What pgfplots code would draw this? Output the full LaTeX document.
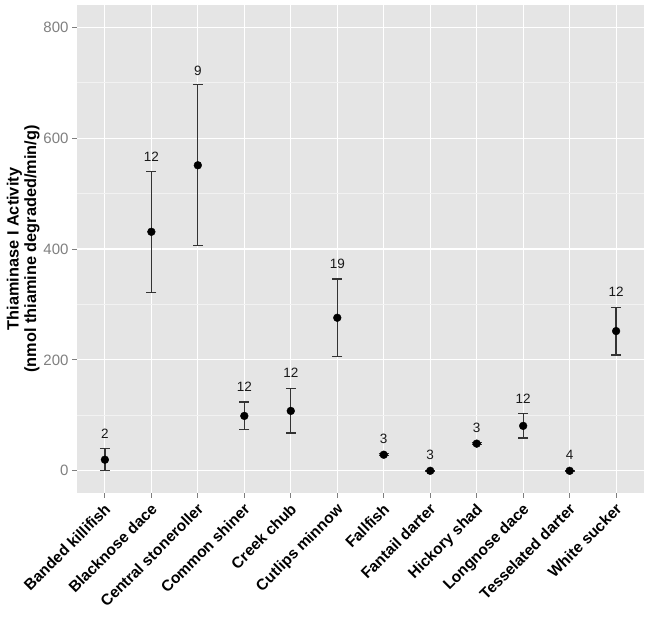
\documentclass[border=0pt]{standalone}
\usepackage{pgfplots}
\pgfplotsset{compat=1.18}
\usepackage{pgfplotstable}
\usepackage{fontspec}
\setmainfont{Liberation Sans}
\definecolor{panel}{HTML}{E5E5E5}
\definecolor{minorg}{HTML}{F2F2F2}
\definecolor{tickg}{HTML}{7F7F7F}
\definecolor{errc}{HTML}{333333}

\pgfplotstableread{
x y err lab n
1 20 20 67 2
2 431 109 567 12
3 551 145 721 9
4 99 25 152 12
5 108 40 176 12
6 276 70 374 19
7 29 2 57 3
8 0 0.5 29 3
9 49 2 78 3
10 81 22 130 12
11 0 0.5 28 4
12 252 43 323 12
}\data

\begin{document}
\begin{tikzpicture}
\begin{axis}[
  scale only axis, width=567pt, height=488pt,
  xmin=0.4, xmax=12.6, ymin=-40, ymax=840,
  xtick={1,...,12},
  xticklabels={Banded killifish,Blacknose dace,Central stoneroller,Common shiner,Creek chub,Cutlips minnow,Fallfish,Fantail darter,Hickory shad,Longnose dace,Tesselated darter,White sucker},
  ytick={0,200,400,600,800}, minor ytick={100,300,500,700},
  grid=both,
  major grid style={white, line width=1.1pt},
  minor grid style={minorg, line width=0.6pt},
  axis background/.style={fill=panel},
  axis line style={draw=none},
  xtick pos=left, ytick pos=left,
  tick align=outside, major tick length=5pt, minor tick length=0pt,
  tick style={tickg, line width=0.9pt},
  /pgf/number format/assume math mode=true,
  yticklabel style={font=\fontsize{15}{17}\selectfont, color=tickg},
  xticklabel style={font=\bfseries\fontsize{15.5}{17}\selectfont, rotate=45, anchor=north east, inner sep=2pt, xshift=-2pt},
  ylabel={Thiaminase I Activity\\(nmol thiamine degraded/min/g)},
  ylabel style={font=\bfseries\fontsize{16.3}{17.5}\selectfont, align=center, at={(rel axis cs:-0.095,0.5)}, anchor=center},
  clip=false,
]
\addplot[only marks, mark=*, mark size=3.9pt, color=black,
  error bars/.cd, y dir=both, y explicit,
  error bar style={errc, line width=1.3pt},
  error mark options={errc, rotate=90, mark size=5pt, line width=1.3pt}]
  table[x=x, y=y, y error=err] {\data};
\addplot[only marks, mark=none, nodes near coords, point meta=explicit symbolic,
  nodes near coords style={font=\fontsize{13.5}{15}\selectfont, anchor=center, text=black!90}]
  table[x=x, y=lab, meta=n] {\data};
\end{axis}
\pgfresetboundingbox
\path[use as bounding box] ([xshift=-77pt,yshift=-130pt]current axis.south west) rectangle ([xshift=6pt,yshift=5pt]current axis.north east);
\end{tikzpicture}
\end{document}
